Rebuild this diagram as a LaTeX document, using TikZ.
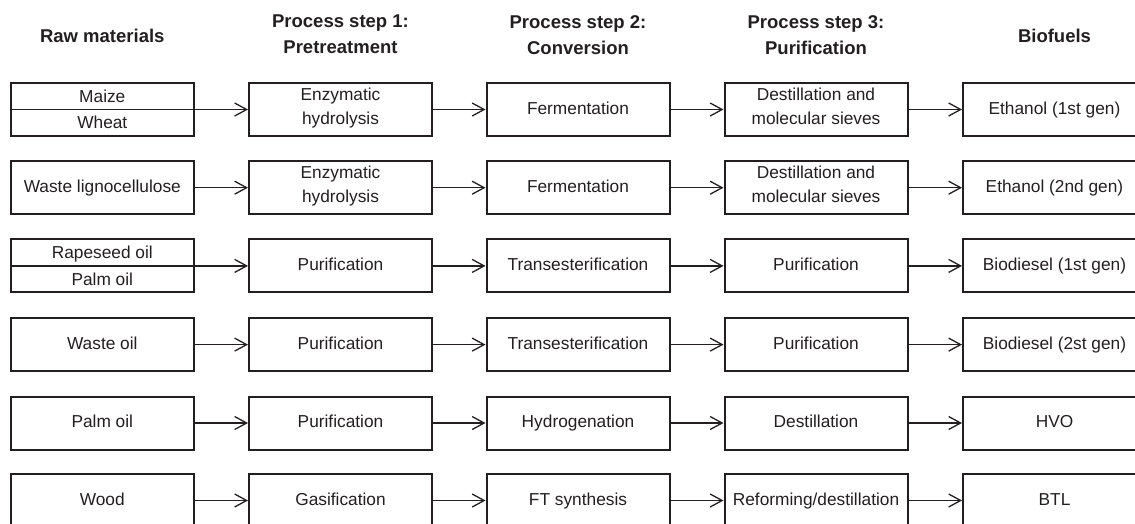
\documentclass[tikz,border=0pt]{standalone}
\usepackage{fontspec}
\setmainfont{Liberation Sans}
\usetikzlibrary{arrows.meta}
\definecolor{ink}{RGB}{35,31,32}
\begin{document}
\begin{tikzpicture}[x=1pt,y=-1pt,
 box/.style={draw=ink, line width=2pt, minimum width=183pt, minimum height=53pt, inner sep=0pt, align=center, font=\fontsize{17.3}{24}\selectfont, text=ink, execute at begin node=\strut},
 plain/.style={inner sep=0pt, align=center, font=\fontsize{17.3}{24}\selectfont, text=ink, execute at begin node=\strut},
 head/.style={inner sep=0pt, align=center, font=\fontsize{18.5}{26}\selectfont\bfseries, text=ink, execute at begin node=\strut},
 flow/.style={draw=ink, line width=1.3pt, -{Straight Barb[length=12pt,width=13pt,line width=1.3pt]}},
 divider/.style={draw=ink, line width=1.2pt}]
\useasboundingbox (0,0) rectangle (1135,523);
\clip (0,0) rectangle (1135,523);
% headers
\node[head] (h0) at (102.3,37) {Raw materials};
\node[head] (h1) at (340.5,38.5) {Process step 1:\\Pretreatment\strut};
\node[head] (h2) at (578,38.5) {Process step 2:\\Conversion\strut};
\node[head] (h3) at (816,38.5) {Process step 3:\\Purification\strut};
\node[head] (h4) at (1054.5,37) {Biofuels};
% row 1
\node[box] (a1) at (102.3,109.5) {};
\draw[divider] (a1.west) -- (a1.east);
\node[plain] (a1t) at (102.3,97.3) {Maize};
\node[plain] (a1b) at (102.3,123.8) {Wheat};
\node[box] (b1) at (340.5,109.5) {Enzymatic\\hydrolysis\strut};
\node[box] (c1) at (578,109.5) {Fermentation};
\node[box] (d1) at (816,109.5) {Destillation and\\molecular sieves\strut};
\node[box] (e1) at (1054.5,109.5) {Ethanol (1st gen)};
% row 2
\node[box] (a2) at (102.3,187.7) {Waste lignocellulose};
\node[box] (b2) at (340.5,187.7) {Enzymatic\\hydrolysis\strut};
\node[box] (c2) at (578,187.7) {Fermentation};
\node[box] (d2) at (816,187.7) {Destillation and\\molecular sieves\strut};
\node[box] (e2) at (1054.5,187.7) {Ethanol (2nd gen)};
% row 3
\node[box] (a3) at (102.3,265.9) {};
\draw[divider] (a3.west) -- (a3.east);
\node[plain] (a3t) at (102.3,253.7) {Rapeseed oil};
\node[plain] (a3b) at (102.3,280.2) {Palm oil};
\node[box] (b3) at (340.5,265.9) {Purification};
\node[box] (c3) at (578,265.9) {Transesterification};
\node[box] (d3) at (816,265.9) {Purification};
\node[box] (e3) at (1054.5,265.9) {Biodiesel (1st gen)};
% row 4
\node[box] (a4) at (102.3,344.6) {Waste oil};
\node[box] (b4) at (340.5,344.6) {Purification};
\node[box] (c4) at (578,344.6) {Transesterification};
\node[box] (d4) at (816,344.6) {Purification};
\node[box] (e4) at (1054.5,344.6) {Biodiesel (2st gen)};
% row 5
\node[box] (a5) at (102.3,423) {Palm oil};
\node[box] (b5) at (340.5,423) {Purification};
\node[box] (c5) at (578,423) {Hydrogenation};
\node[box] (d5) at (816,423) {Destillation};
\node[box] (e5) at (1054.5,423) {HVO};
% row 6
\node[box] (a6) at (102.3,500.5) {Wood};
\node[box] (b6) at (340.5,500.5) {Gasification};
\node[box] (c6) at (578,500.5) {FT synthesis};
\node[box] (d6) at (816,500.5) {Reforming/destillation};
\node[box] (e6) at (1054.5,500.5) {BTL};
% connectors
\foreach \r in {1,...,6}{
  \draw[flow] (a\r.east) -- (b\r.west);
  \draw[flow] (b\r.east) -- (c\r.west);
  \draw[flow] (c\r.east) -- (d\r.west);
  \draw[flow] (d\r.east) -- (e\r.west);
}
\end{tikzpicture}
\end{document}
